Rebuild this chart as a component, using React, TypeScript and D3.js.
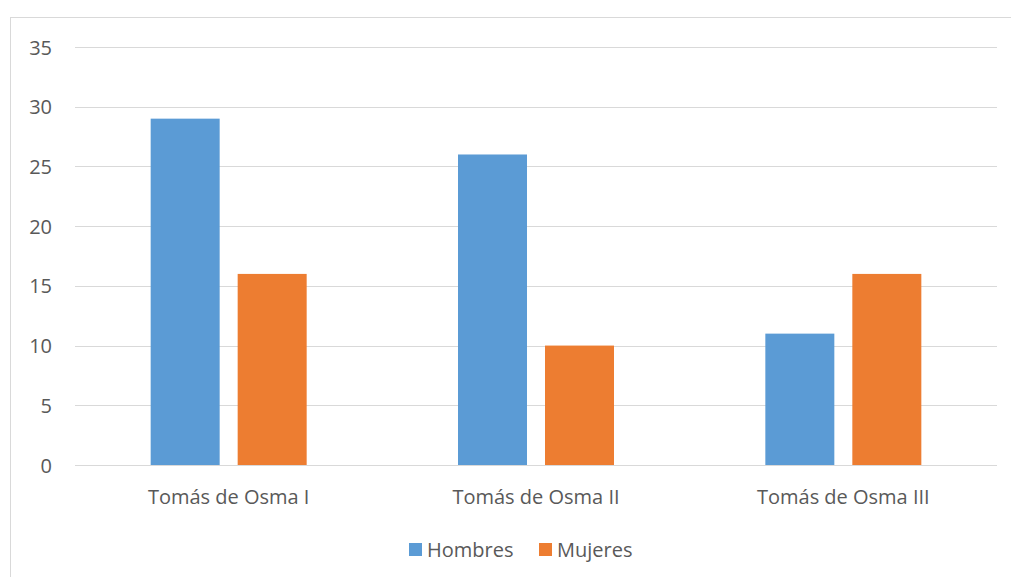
import React from "react";
import * as d3 from "d3";

const categories = ["Tomás de Osma I", "Tomás de Osma II", "Tomás de Osma III"];
const seriesNames = ["Hombres", "Mujeres"];
const hombres = [29, 26, 11];
const mujeres = [16, 10, 16];
const yTicks = [0, 5, 10, 15, 20, 25, 30, 35];
const colors = ["#5b9bd5", "#ed7d31"];

const W = 1011;
const H = 577;
const FONT = "Open Sans, Liberation Sans, sans-serif";
const TEXT = "#595959";

export default function App() {
  const left = 75;
  const right = 997;
  const top = 47;
  const bottom = 465;

  const x0 = d3.scaleBand<string>().domain(categories).range([left, right]).paddingInner(0).paddingOuter(0);
  const y = d3.scaleLinear().domain([0, 35]).range([bottom, top]);
  const bw = 69;
  const gap = 18;
  const values = [hombres, mujeres];

  return (
    <svg width={W} height={H} style={{ position: "absolute", left: 0, top: 0 }} fontFamily={FONT}>
      <rect x={0} y={0} width={W} height={H} fill="#fff" />
      <rect x={10.5} y={17.5} width={W + 5} height={H} fill="none" stroke="#d9d9d9" strokeWidth={1} />
      {yTicks.map((t) => (
        <g key={t}>
          <line x1={left} x2={right} y1={Math.round(y(t)) + 0.5} y2={Math.round(y(t)) + 0.5} stroke="#d9d9d9" strokeWidth={1} />
          <text x={52} y={y(t)} textAnchor="end" dominantBaseline="central" fontSize={20} fill={TEXT}>
            {t}
          </text>
        </g>
      ))}
      {categories.map((c, i) => {
        const cx = (x0(c) as number) + x0.bandwidth() / 2;
        return (
          <g key={c}>
            {values.map((vals, s) => {
              const bx = s === 0 ? cx - gap / 2 - bw : cx + gap / 2;
              return (
                <rect key={s} x={bx} y={y(vals[i])} width={bw} height={y(0) - y(vals[i])} fill={colors[s]} />
              );
            })}
            <text x={cx} y={496} textAnchor="middle" dominantBaseline="central" fontSize={20} fill={TEXT}>
              {c}
            </text>
          </g>
        );
      })}
      <line x1={left} x2={right} y1={Math.round(y(0)) + 0.5} y2={Math.round(y(0)) + 0.5} stroke="#d9d9d9" strokeWidth={1} />
      {seriesNames.map((n, s) => {
        const lx = s === 0 ? 409 : 539;
        return (
          <g key={n}>
            <rect x={lx} y={543} width={13} height={13} fill={colors[s]} />
            <text x={lx + 18} y={549} dominantBaseline="central" fontSize={20} fill={TEXT}>
              {n}
            </text>
          </g>
        );
      })}
    </svg>
  );
}
